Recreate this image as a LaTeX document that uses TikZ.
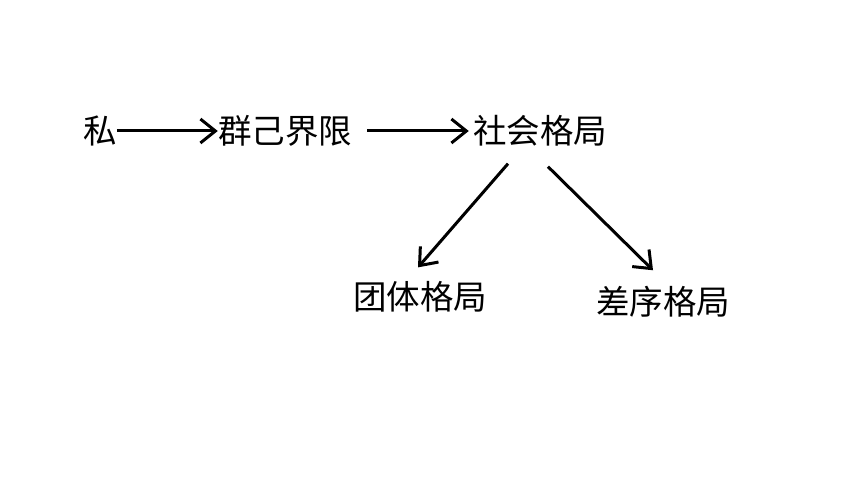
\documentclass[tikz,border=0pt]{standalone}
\usepackage{fontspec}
\newfontfamily\cjk{Noto Sans CJK SC}
\usetikzlibrary{arrows.meta,calc}
\tikzset{
  lbl/.style={inner sep=0pt, font=\cjk\fontsize{33.5}{36}\selectfont},
  arr/.style={line width=3pt, -{Straight Barb[length=15pt,width=24pt,line width=3pt]}}
}
\begin{document}
\begin{tikzpicture}[x=1pt,y=-1pt]
\useasboundingbox (0,0) rectangle (860,484);
\fill[white] (0,0) rectangle (860,484);
\node[lbl] (si) at (100,131) {私};
\node[lbl] (qj) at (285,131) {群己界限};
\node[lbl] (sh) at (540,131) {社会格局};
\node[lbl] (tt) at (420,297) {团体格局};
\node[lbl] (cx) at (663,302) {差序格局};
\draw[arr] (si.east) -- (qj.west);
\draw[arr] ($(qj.east)+(15,0)$) -- ($(sh.west)+(-4,0)$);
\draw[arr] ($(sh.south)+(-32,17)$) -- ($(tt.north)+(-2,-14)$);
\draw[arr] ($(sh.south)+(8,20)$) -- ($(cx.north)+(-10,-16)$);
\end{tikzpicture}
\end{document}
